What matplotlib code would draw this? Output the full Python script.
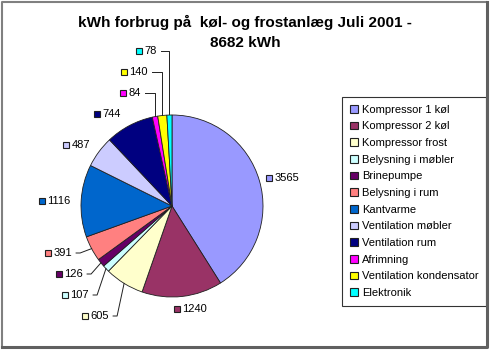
import numpy as np
import matplotlib.pyplot as plt
from matplotlib.patches import Rectangle
from matplotlib.lines import Line2D

plt.rcParams['font.family'] = ['Liberation Sans', 'DejaVu Sans']

# data (kWh, July 2001)
names = ['Kompressor 1 køl', 'Kompressor 2 køl', 'Kompressor frost',
         'Belysning i møbler', 'Brinepumpe', 'Belysning i rum', 'Kantvarme',
         'Ventilation møbler', 'Ventilation rum', 'Afrimning',
         'Ventilation kondensator', 'Elektronik']
values = [3565, 1240, 605, 107, 126, 391, 1116, 487, 744, 84, 140, 78]
colors = ['#9999FF', '#993366', '#FFFFCC', '#CCFFFF', '#660066', '#FF8080',
          '#0066CC', '#CCCCFF', '#000080', '#FF00FF', '#FFFF00', '#00FFFF']
title_lines = ['kWh forbrug på  køl- og frostanlæg Juli 2001 -', '8682 kWh']

# layout in pixel coords (x right, y down): label marker position, leader line?
label_pos = [(269, 178, False), (177, 309, False), (85, 316, True),
             (65, 295, True), (59, 274, True), (48, 253, True),
             (42, 201, False), (66, 145, False), (97, 114, False),
             (123, 93, True), (124, 72, True), (139, 51, True)]
cx, cy, r = 172, 206, 91

fig = plt.figure(figsize=(4.9, 3.52), dpi=100)
ax = fig.add_axes([0, 0, 1, 1])

wedges, _ = ax.pie(values, colors=colors, startangle=-90, counterclock=True,
                   center=(cx, cy), radius=r,
                   wedgeprops=dict(edgecolor='#202020', linewidth=0.6))
ax.set_xlim(0, 490)
ax.set_ylim(352, 0)
ax.set_aspect('auto')
ax.axis('off')

fs = 8
for w, v, c, (lx, ly, lead) in zip(wedges, values, colors, label_pos):
    ax.plot(lx, ly, 's', ms=4.6, mfc=c, mec='#202020', mew=0.8)
    ax.text(lx + 5.5, ly, str(v), fontsize=fs, va='center', ha='left')
    if lead:
        ang = np.deg2rad((w.theta1 + w.theta2) / 2)
        ex, ey = cx + r * np.cos(ang), cy + r * np.sin(ang)
        tx = lx + 5.5 + 6.2 * len(str(v)) + 4
        if ey > ly + 5 and ly < 120:
            # go right then down to the pie top
            ax.plot([tx, ex, ex], [ly, ly, ey - 1], color='#202020', lw=0.7)
        else:
            ax.plot([tx, tx + 4, ex], [ly, ly, ey], color='#202020', lw=0.7)

# title, one text per line
for line, ty in zip(title_lines, [22, 43]):
    fig.text(0.5, 1 - ty / 352, line, ha='center', va='center', fontsize=11,
             fontweight='bold')

handles = [Rectangle((0, 0), 1, 1, facecolor=c, edgecolor='#202020', lw=0.8)
           for c in colors]
leg = ax.legend(handles, names, loc='upper left',
                bbox_to_anchor=(342 / 490, 1 - 97 / 352), borderaxespad=0,
                fontsize=fs, frameon=True, fancybox=False, edgecolor='black',
                handlelength=0.7, handleheight=0.7, handletextpad=0.4,
                labelspacing=0.6, borderpad=0.7)
leg.get_frame().set_linewidth(0.8)

# chart area border
fig.add_artist(Line2D([2 / 490, 2 / 490, 486 / 490], [1 - 347 / 352, 1 - 2 / 352, 1 - 2 / 352],
                      color='#808080', lw=1.5, transform=fig.transFigure))
fig.add_artist(Line2D([2 / 490, 487 / 490, 487 / 490], [1 - 347 / 352, 1 - 347 / 352, 1 - 2 / 352],
                      color='#606060', lw=2.2, transform=fig.transFigure))

fig.savefig('out.png', dpi=100)
